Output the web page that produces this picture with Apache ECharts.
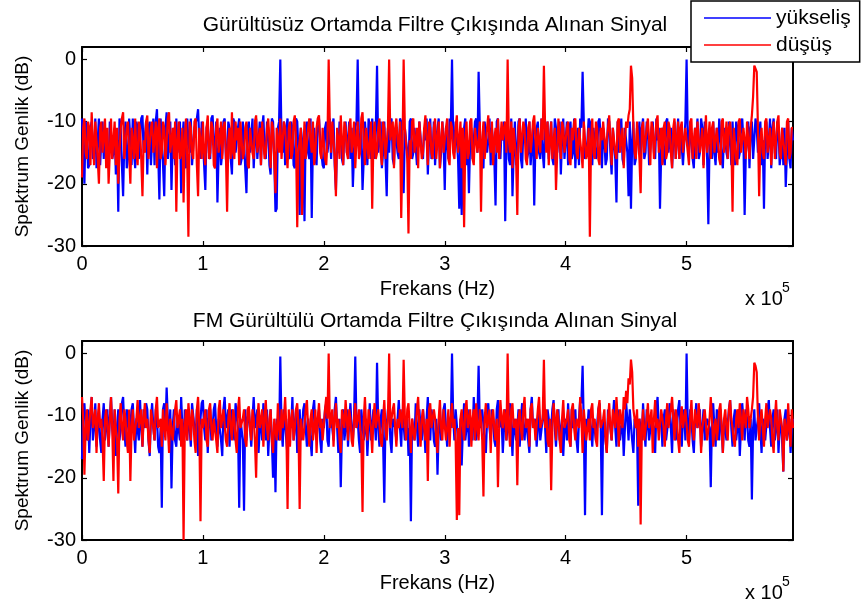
<!DOCTYPE html>
<html><head><meta charset="utf-8">
<script src="https://cdn.jsdelivr.net/npm/echarts@6/dist/echarts.min.js"></script>
<style>html,body{margin:0;padding:0;background:#fff}#c{width:863px;height:608px}</style>
</head><body><div id="c"></div><script>
// frequency grid step, in units of 10^5 Hz
const freqStep = 0.01;
const xTicks = [0, 1, 2, 3, 4, 5];
const yTicks = [-30, -20, -10, 0];
const titles = ['Gürültüsüz Ortamda Filtre Çıkışında Alınan Sinyal', 'FM Gürültülü Ortamda Filtre Çıkışında Alınan Sinyal'];
const seriesNames = ['yükseliş', 'düşüş'];

// Top panel (noise-free), yükseliş  (dB)
const topBlue = [
-9.5,-15,-20,-10,-11,-17.5,-17,-11,-10,-16,-15,-9.5,-17.5,-13,-9.5,-17,-13,-10,-16,-11,
-11,-16,-17,-10,-10,-16,-15,-11,-18.5,-13,-24.5,-9.5,-11,-17,-22,-13,-10,-17.5,-16,-9.5,
-13,-17,-9.5,-15,-17.5,-10,-11,-16,-16,-9.5,-9,-15,-15,-10,-18.5,-11,-10,-17,-13,-9.5,
-17,-10,-8,-15,-22.5,-9.5,-13,-17,-22,-11,-8.5,-16,-16,-10,-21,-13,-11,-17,-9.5,-15,
-15,-10,-21.5,-13,-10,-16,-17.5,-9.5,-13,-15,-9.5,-17,-17,-11,-11,-9.5,-8,-13,-16,-10,
-13,-17,-21,-11,-10,-15,-16,-9.5,-9,-13,-17.5,-10,-23,-15,-11,-17,-15,-10,-9.5,-16,
-17,-10,-11,-16,-18.5,-9.5,-10,-15,-15,-11,-9.5,-17,-16,-10,-13,-17.5,-21.5,-11,-10,-15,
-15,-9.5,-17.5,-13,-9.5,-16,-13,-10,-17,-11,-9,-15,-16,-10,-11,-17,-18.5,-9.5,-10,-16,
-24.5,-24,-11,-10,0,-13,-15,-10,-17,-11,-9.5,-16,-15,-10,-11,-17,-17.5,-9.5,-10,-15,
-25,-11,-13,-16,-26,-11,-10,-15,-16,-9.5,-25.5,-13,-11,-16,-17,-10,-9.5,-13,-15,-17,
-17.5,-11,-10,-15,-13,-9.5,-16,-11,-9.5,-17,-21,-13,-15,-10,-11,-16,-17,-11,-10,-15,
-13,-10,-16,-11,-20.5,-15,-11,-10,0,-13,-15,-11,-21,-16,-10,-13,-17,-9.5,-11,-16,
-9.5,-13,-16,-11,-1,-15,-13,-10,-17.5,-15,-10,-16,-22,-11,-15,-10,-9.5,-16,-17,-11,
-11,-15,-16,-9.5,-10,-17,-21.5,-11,-13,-15,-17.5,-10,-9.5,-16,-15,-11,-11,-17,-17,-10,
-10,-15,-16,-11,-13,-9.5,-18.5,-13,-9.5,-16,-15,-10,-17,-13,-11,-9.5,-17.5,-15,-10,-13,
-21,-11,-13,-16,-9.5,-11,0,-13,-15,-10,-10,-16,-24,-11,-25,-15,-11,-9.5,-17,-13,
-21.5,-13,-11,-16,-16,-10,-9.5,-15,-2,-11,-15,-17,-17.5,-10,-10,-15,-13,-9.5,-17,-11,
-11,-16,-23.5,-10,-9.5,-15,-16,-11,-13,-10,-26,-13,-11,-16,-17,-9.5,-22,-15,-10,-17,
-15,-10,-9.5,-16,-17.5,-11,-13,-9.5,-16,-15,-10,-17,-17,-11,-23.5,-13,-11,-10,-15,-16,
-9.5,-15,-17.5,-11,-13,-10,-16,-13,-10,-16,-17,-9.5,-11,-15,-15,-10,-18.5,-13,-9.5,-16,
-13,-10,-17,-11,-10,-16,-15,-9.5,-17.5,-13,-11,-17,-9.5,-11,-2,-10,-16,-15,-13,-9.5,
-10,-15,-17,-11,-11,-16,-15,-10,-9.5,-13,-17.5,-11,-13,-17,-16,-9.5,-10,-15,-18.5,-11,
-11,-16,-23,-10,-15,-13,-9.5,-16,-17,-11,-13,-15,-22,-10,-24,-13,-10,-17,-16,-11,
-13,-10,-17.5,-11,-9.5,-16,-15,-10,-11,-17,-17,-11,-10,-15,-16,-9.5,-13,-11,-24,-15,
-11,-16,-17,-10,-9.5,-15,-15,-11,-17.5,-13,-10,-16,-13,-9.5,-16,-11,-11,-17,-17,-10,
0,-13,-15,-10,-10,-16,-17.5,-11,-13,-9.5,-16,-15,-9.5,-11,-17,-10,-11,-16,-26.5,-13,
-13,-16,-10,-15,-17,-11,-15,-9.5,-9.5,-16,-17.5,-11,-11,-15,-16,-10,-13,-17,-10,-15,
-17,-10,-11,-16,-15,-11,-9.5,-13,-25,-15,-13,-10,-17.5,-11,-10,-16,-16,-9.5,-11,-15,
-15,-10,-17,-13,-24,-11,-10,-16,-13,-9.5,-17.5,-11,-9.5,-15,-16,-10,-11,-17,-15,-11,
-17,-11,-20.5,-15,-10,-16,-17.5,-11,-13
];
// Top panel (noise-free), düşüş  (dB)
const topRed = [
-19,-11,-9.5,-15,-16,-10,-11,-17,-8.5,-13,-17,-10,-13,-16,-20,-11,-10,-15,-15,-9.5,
-17.5,-11,-20,-15,-9.5,-16,-13,-10,-17,-11,-20,-15,-11,-9.5,-8.5,-16,-16,-11,-10,-15,
-20,-11,-13,-16,-9.5,-15,-17,-10,-11,-16,-22,-13,-15,-10,-9,-16,-16,-11,-10,-15,
-13,-10,-17.5,-11,-9.5,-16,-15,-10,-11,-17,-17,-9.5,-8.5,-15,-13,-11,-16,-10,-24.5,-13,
-10,-16,-15,-11,-23,-13,-9.5,-16,-28.5,-10,-11,-15,-16,-10,-9.5,-17,-22,-11,-13,-16,
-10,-15,-17,-11,-9,-16,-15,-10,-11,-17,-17.5,-11,-9.5,-15,-13,-10,-16,-11,-10,-15,
-24.5,-13,-11,-16,-8.5,-15,-16,-10,-13,-11,-17,-10,-10,-16,-15,-11,-10,-17,-17.5,-11,
-11,-15,-16,-10,-9,-15,-13,-11,-17,-10,-10,-16,-15,-11,-9.5,-13,-17.5,-10,-11,-16,
-21.5,-11,-13,-15,-9.5,-16,-16,-10,-11,-15,-17.5,-11,-10,-16,-15,-10,-9,-13,-27,-15,
-13,-11,-25,-15,-10,-16,-16,-11,-9.5,-13,-15,-10,-17,-15,-11,-9.5,-9,-15,-16,-11,
-11,-16,-17,-13,0,-11,-15,-10,-10,-16,-22,-11,-13,-16,-9,-13,-17,-10,-11,-15,
-16,-11,-9.5,-15,-13,-10,-17.5,-13,-10,-16,-15,-9.5,-8.5,-13,-17,-11,-11,-16,-16,-10,
-24,-13,-10,-16,-15,-11,-9.5,-15,-17,-10,-11,-16,-16,-11,0,-13,-13,-10,-17.5,-11,
-9.5,-13,-15,-10,-25.5,-15,0,-11,-11,-16,-28,-13,-16,-10,-9.5,-15,-13,-11,-17.5,-10,
-10,-16,-15,-11,-9,-13,-17,-10,-11,-15,-16,-11,-9.5,-16,-13,-10,-17.5,-13,-10,-15,
-15,-11,-9.5,-16,-17,-10,-11,-15,-16,-11,-9,-15,-13,-10,-17.5,-11,-27,-13,-10,-16,
-15,-10,-9.5,-16,-17,-11,-11,-15,-13,-10,-24.5,-13,-10,-16,-16,-11,-9,-13,-15,-10,
-17,-13,-11,-15,-9.5,-16,-16,-10,-13,-11,-10,-15,0,-13,-15,-10,-17.5,-11,-11,-16,
-25,-11,-9.5,-15,-15,-10,-11,-16,-17,-11,-10,-15,-13,-10,-9,-13,-16,-11,-11,-15,
-9.5,-13,-1,-11,-15,-10,-17,-13,-10,-16,-13,-11,-21,-15,-9.5,-13,-16,-10,-11,-15,
-15,-11,-10,-16,-17,-11,-13,-10,-9.5,-15,-16,-11,-11,-15,-17.5,-10,-10,-16,-15,-11,
-28.5,-13,-9.5,-15,-16,-10,-11,-16,-17,-11,-13,-10,-10,-15,-15,-11,-9,-13,-17,-11,
-11,-15,-16,-10,-9.5,-15,-13,-11,-17.5,-13,-10,-11,-9,-8,-1,-3,-11,-15,-16,-10,
-13,-16,-21.5,-11,-10,-15,-15,-11,-9.5,-13,-17,-10,-11,-16,-16,-10,-9,-15,-13,-11,
-17,-11,-10,-16,-15,-10,-11,-15,-17.5,-11,-9.5,-16,-13,-10,-16,-11,-10,-15,-15,-11,
-11,-15,-17,-10,-9.5,-16,-13,-11,-16,-10,-10,-15,-15,-11,-17.5,-13,-9,-15,-13,-10,
-16,-11,-10,-15,-15,-11,-11,-16,-17,-10,-9.5,-15,-13,-10,-16,-11,-10,-13,-24.5,-11,
-11,-16,-17,-10,-9.5,-15,-15,-11,-13,-16,-10,-13,-16,-11,-9,-6,-1,-1.5,-2,-11,
-22,-13,-11,-15,-16,-10,-9.5,-15,-15,-11,-17,-13,-10,-16,-13,-10,-9,-15,-16,-11,
-11,-15,-17,-10,-9.5,-16,-15,-11,-11
];
// Bottom panel (FM noise), yükseliş  (dB)
const bottomBlue = [
-17,-9,-8,-12,-14,-9,-16,-10.5,-7,-14,-12,-8,-15,-12,-9,-14,-16,-10.5,-8,-14,
-12,-9,-15,-10.5,-7,-12,-14,-9,-16.5,-12,-9,-14,-12,-8,-7,-12,-15,-9,-10.5,-14,
-14,-9,-8,-12,-16,-10.5,-10.5,-14,-7.5,-12,-15,-9,-12,-8,-9,-14,-16.5,-10.5,-8,-12,
-14,-9,-10.5,-15,-16,-12,-24.8,-9,-8,-12,-5.5,-10.5,-14,-9,-21.7,-12,-9,-14,-15,-10.5,
-10.5,-14,-7,-12,-16,-9,-12,-14,-9,-12,-15,-8,-8,-12,-14,-9,-16.5,-12,-10.5,-8,
-7.5,-12,-14,-9,-16,-10.5,-9,-14,-12,-9,-8,-12,-15,-10.5,-10.5,-14,-16.5,-9,-7,-12,
-12,-9,-15,-10.5,-9,-12,-14,-8,-8,-12,-24.8,-10.5,-10.5,-14,-25.3,-9,-14,-10.5,-9,-12,
-15,-10.5,-7,-12,-12,-9,-16,-12,-10.5,-14,-8,-10.5,-14,-9,-16.5,-12,-9,-14,-20,-12,
-22.3,-10.5,-12,-14,-0.5,-12,-15,-9,-9,-14,-16.5,-10.5,-10.5,-12,-7,-14,-14,-9,-16,-12,
-9,-14,-12,-9,-8,-12,-15,-10.5,-10.5,-14,-16.5,-9,-7.5,-12,-14,-10.5,-9,-14,-16,-10.5,
-12,-9,-8,-14,-15,-10.5,-10.5,-12,-14,-9,-7,-12,-16,-10.5,-21.5,-12,-9,-14,-12,-9,
-15,-10.5,-8,-12,-14,-10.5,-0.5,-12,-10.5,-14,-16,-9,-9,-14,-12,-10.5,-16.5,-12,-8,-14,
-14,-9,-10.5,-14,-1.5,-12,-15,-10.5,-9,-14,-24,-10.5,-12,-9,-8,-14,-16,-10.5,-10.5,-12,
-14,-10.5,-7.5,-12,-15,-9,-9,-14,-12,-10.5,-16.5,-12,-27,-10.5,-10.5,-14,-8,-12,-15,-9,
-12,-14,-9,-12,-16,-10.5,-7,-12,-14,-9,-10.5,-14,-15,-10.5,-19.5,-12,-9,-14,-12,-9,
-8,-12,-15,-10.5,-10.5,-12,0,-10.5,-14,-9,-9,-14,-16,-10.5,-18,-12,-8,-14,-12,-9,
-15,-10.5,-10.5,-14,-7,-12,-14,-10.5,-2,-12,-12,-9,-9,-14,-16,-10.5,-8,-12,-14,-9,
-10.5,-14,-15,-9,-7.5,-12,-12,-10.5,-16,-12,-9,-14,-14,-9,-8,-12,-16.5,-10.5,-10.5,-14,
-12,-9,-15,-10.5,-8,-12,-14,-10.5,-10.5,-14,-16,-9,-7,-12,-12,-10.5,-15,-12,-9,-14,
-14,-10.5,-8,-12,-16,-9,-10.5,-14,-12,-9,-7.5,-12,-15,-10.5,-9,-14,-14,-10.5,-16.5,-12,
-10.5,-14,-8,-12,-15,-9,-12,-10.5,-9,-14,-16,-10.5,-7.5,-8,-2,-12,-26,-10.5,-12,-9,
-9,-12,-15,-10.5,-10.5,-14,-14,-9,-8,-12,-26,-10.5,-12,-14,-16,-9,-9,-12,-14,-10.5,
-7.5,-12,-15,-9,-10.5,-14,-12,-10.5,-16.5,-12,-8,-10.5,-14,-9,-9,-14,-16,-10.5,-10.5,-12,
-24.5,-10.5,-12,-14,-8,-12,-15,-9,-9,-14,-14,-10.5,-10.5,-12,-16,-9,-7,-12,-12,-10.5,
-15,-10.5,-9,-14,-14,-10.5,-8,-12,-16,-9,-10.5,-14,-12,-9,-7.5,-12,-15,-10.5,-9,-14,
0,-12,-14,-9,-10.5,-14,-16,-10.5,-8,-12,-12,-9,-15,-12,-9,-14,-14,-10.5,-10.5,-12,
-21.5,-10.5,-8,-12,-15,-9,-12,-14,-9,-12,-16,-10.5,-10.5,-14,-14,-9,-7.5,-12,-15,-10.5,
-9,-14,-12,-9,-16.5,-12,-8,-10.5,-14,-9,-10.5,-14,-15,-10.5,-23.5,-12,-9,-14,-12,-10.5,
-8,-12,-16,-10.5,-10.5,-14,-14,-9,-7.5,-12,-15,-10.5,-9,-14,-12,-9,-16,-12,-10.5,-14,
-19,-10.5,-9,-14,-14,-10.5,-16,-12,-10.5
];
// Bottom panel (FM noise), düşüş  (dB)
const bottomRed = [
-7,-10.5,-19.5,-12,-9,-14,-14,-9,-7,-12,-12,-9,-16,-10.5,-8,-12,-10.5,-14,-20.5,-10.5,
-9,-12,-15,-10.5,-7,-12,-20.5,-9,-12,-14,-22.5,-10.5,-8,-12,-14,-9,-10.5,-14,-16,-9,
-20.5,-12,-9,-14,-14,-10.5,-7.5,-12,-12,-9,-15,-10.5,-8,-12,-10.5,-14,-16,-9,-9,-12,
-14,-9,-7,-12,-12,-10.5,-15,-9,-9,-14,-8,-12,-16,-10.5,-10.5,-14,-14,-9,-7.5,-12,
-12,-9,-15,-10.5,-30,-12,-9,-14,-8,-10.5,-14,-9,-10.5,-14,-16,-9,-7,-12,-27,-10.5,
-12,-10.5,-9,-14,-15,-9,-8,-12,-14,-10.5,-10.5,-14,-16,-9,-7.5,-12,-12,-9,-9,-14,
-15,-10.5,-8,-12,-14,-9,-10.5,-14,-16,-9,-7,-12,-12,-10.5,-9,-14,-15,-9,-8.5,-12,
-14,-9,-10.5,-14,-20,-10.5,-8,-12,-12,-9,-15,-10.5,-7.5,-12,-14,-10.5,-9,-14,-16,-10.5,
-10.5,-14,-8,-12,-14,-9,-12,-10.5,-7,-12,-25,-9,-15,-10.5,-9,-14,-12,-9,-8,-12,
-25,-10.5,-10.5,-14,-14,-9,-7.5,-12,-15,-10.5,-9,-14,-12,-9,-16,-10.5,-8,-12,-10.5,-14,
-14,-9,-7,-10.5,0,-12,-12,-9,-15,-10.5,-8,-12,-10.5,-14,-16,-9,-9,-12,-7.5,-10.5,
-14,-9,-10.5,-14,-15,-10.5,-8,-12,-12,-9,-9,-14,-25.5,-10.5,-7,-12,-14,-9,-10.5,-12,
-16,-10.5,-8,-12,-12,-9,-9,-14,-15,-10.5,-7.5,-12,-14,-10.5,0,-12,-10.5,-9,-8,-12,
-15,-10.5,-12,-9,-9,-12,-1,-10.5,-14,-9,-8,-12,-16,-10.5,-10.5,-14,-12,-9,-7,-12,
-15,-10.5,-9,-12,-14,-10.5,-20.5,-9,-8,-12,-12,-9,-10.5,-14,-16,-10.5,-7.5,-12,-14,-9,
-9,-14,-12,-9,-15,-10.5,-8,-12,-10.5,-14,-26.8,-12,-26,-10.5,-9,-12,-14,-9,-7.5,-12,
-12,-9,-15,-10.5,-9,-14,-8,-12,-14,-9,-10.5,-14,-23,-10.5,-8,-12,-12,-9,-16,-10.5,
-9,-12,-14,-10.5,-21.5,-12,-7.5,-10.5,-12,-9,-10.5,-14,0,-12,-15,-9,-8,-12,-12,-10.5,
-21.2,-10.5,-9,-12,-14,-9,-7,-12,-12,-10.5,-15,-9,-8,-12,-10.5,-14,-14,-9,-7,-12,
-12,-10.5,-1,-12,-9,-14,-15,-10.5,-22,-12,-8,-10.5,-14,-9,-10.5,-14,-16,-10.5,-7.5,-12,
-12,-10.5,-9,-14,-15,-9,-8,-12,-14,-10.5,-10.5,-12,-7,-10.5,-16,-9,-9,-14,-12,-10.5,
-14,-9,-8,-12,-10.5,-14,-15,-9,-7.5,-12,-12,-10.5,-9,-14,-16,-10.5,-8,-12,-14,-9,
-10.5,-12,-7,-10.5,-15,-9,-9,-12,-7,-9,-6,-8,-4,-5,-1,-3,-9,-10.5,-12,-9,
-15,-10.5,-27.5,-12,-9,-14,-14,-10.5,-8,-12,-12,-9,-16,-10.5,-7.5,-12,-10.5,-14,-14,-9,
-9,-12,-15,-10.5,-8,-12,-12,-9,-7,-10.5,-14,-9,-10.5,-14,-16,-10.5,-8.5,-12,-12,-9,
-9,-14,-15,-10.5,-7.5,-12,-14,-9,-10.5,-12,-8,-10.5,-16,-12,-12,-9,-9,-14,-14,-10.5,
-7,-10.5,-15,-12,-10.5,-14,-12,-9,-8,-12,-16,-10.5,-9,-12,-14,-9,-7.5,-10.5,-12,-14,
-15,-10.5,-9,-12,-8,-10.5,-14,-9,-10.5,-12,-7,-9,-12,-10.5,-9,-7,-1.5,-2,-3,-10.5,
-14,-10.5,-9,-12,-15,-10.5,-8,-12,-12,-9,-10.5,-14,-16,-10.5,-7.5,-12,-14,-9,-9,-12,
-19,-10.5,-10.5,-14,-8,-12,-15,-9,-12
];

const FONT = "'Liberation Sans', Arial, Helvetica, sans-serif";
const BLUE = '#0000FF', RED = '#FF0000';
const toPairs = arr => arr.map((v, i) => [+(i * freqStep).toFixed(2), v]);

function xAx(gi, pos, main) {
  return {
    type: 'value', gridIndex: gi, position: pos, min: 0, max: 5.88, interval: 1,
    axisLine: { show: true, onZero: false, lineStyle: { color: '#000', width: 2 } },
    axisTick: { show: true, inside: true, length: 5, customValues: xTicks, lineStyle: { color: '#000', width: 1.2 } },
    axisLabel: { show: main, customValues: xTicks, margin: 8, color: '#000', fontSize: 20, fontFamily: FONT },
    splitLine: { show: false },
    name: main ? 'Frekans (Hz)' : '', nameLocation: 'middle', nameGap: 33,
    nameTextStyle: { color: '#000', fontSize: 20, fontFamily: FONT }
  };
}
function yAx(gi, pos, main) {
  return {
    type: 'value', gridIndex: gi, position: pos, min: -30, max: 2, interval: 10,
    axisLine: { show: true, onZero: false, lineStyle: { color: '#000', width: 2 } },
    axisTick: { show: true, inside: true, length: 5, customValues: yTicks, lineStyle: { color: '#000', width: 1.2 } },
    axisLabel: { show: main, customValues: yTicks, margin: 6, color: '#000', fontSize: 20, fontFamily: FONT },
    splitLine: { show: false },
    name: main ? 'Spektrum Genlik (dB)' : '', nameLocation: 'middle', nameGap: 50, nameRotate: 90,
    nameTextStyle: { color: '#000', fontSize: 19, fontFamily: FONT }
  };
}
function lineSeries(name, xi, yi, arr, color) {
  return {
    type: 'line', name: name, xAxisIndex: xi, yAxisIndex: yi, data: toPairs(arr),
    symbol: 'none', showSymbol: false, lineStyle: { color: color, width: 2.2 }, itemStyle: { color: color },
    animation: false
  };
}

const chart = echarts.init(document.getElementById('c'), null, { renderer: 'canvas' });
chart.setOption({
  backgroundColor: '#fff',
  animation: false,
  grid: [
    { left: 82, top: 47, width: 711, height: 199 },
    { left: 82, top: 341, width: 711, height: 199 }
  ],
  xAxis: [xAx(0, 'bottom', true), xAx(0, 'top', false), xAx(1, 'bottom', true), xAx(1, 'top', false)],
  yAxis: [yAx(0, 'left', true), yAx(0, 'right', false), yAx(1, 'left', true), yAx(1, 'right', false)],
  legend: {
    left: 691, top: 1, orient: 'vertical', icon: 'rect', itemWidth: 67, itemHeight: 1.5, itemGap: 5,
    padding: [6, 9, 6, 13], backgroundColor: '#fff', borderColor: '#000', borderWidth: 1.5, borderRadius: 0,
    textStyle: { fontSize: 21, color: '#000', fontFamily: FONT, lineHeight: 22 },
    data: seriesNames, z: 10
  },
  graphic: [
    { type: 'text', x: 435, y: 25, style: { text: titles[0], font: '21px ' + FONT, fill: '#000', textAlign: 'center', textVerticalAlign: 'middle' } },
    { type: 'text', x: 435, y: 321, style: { text: titles[1], font: '21px ' + FONT, fill: '#000', textAlign: 'center', textVerticalAlign: 'middle' } },
    { type: 'text', x: 745, y: 299, style: { text: 'x 10', font: '20px ' + FONT, fill: '#000', textAlign: 'left', textVerticalAlign: 'middle' } },
    { type: 'text', x: 782, y: 288, style: { text: '5', font: '14px ' + FONT, fill: '#000', textAlign: 'left', textVerticalAlign: 'middle' } },
    { type: 'text', x: 745, y: 593, style: { text: 'x 10', font: '20px ' + FONT, fill: '#000', textAlign: 'left', textVerticalAlign: 'middle' } },
    { type: 'text', x: 782, y: 582, style: { text: '5', font: '14px ' + FONT, fill: '#000', textAlign: 'left', textVerticalAlign: 'middle' } }
  ],
  series: [
    lineSeries(seriesNames[0], 0, 0, topBlue, BLUE),
    lineSeries(seriesNames[1], 0, 0, topRed, RED),
    lineSeries(seriesNames[0], 2, 2, bottomBlue, BLUE),
    lineSeries(seriesNames[1], 2, 2, bottomRed, RED)
  ]
});
</script></body></html>
